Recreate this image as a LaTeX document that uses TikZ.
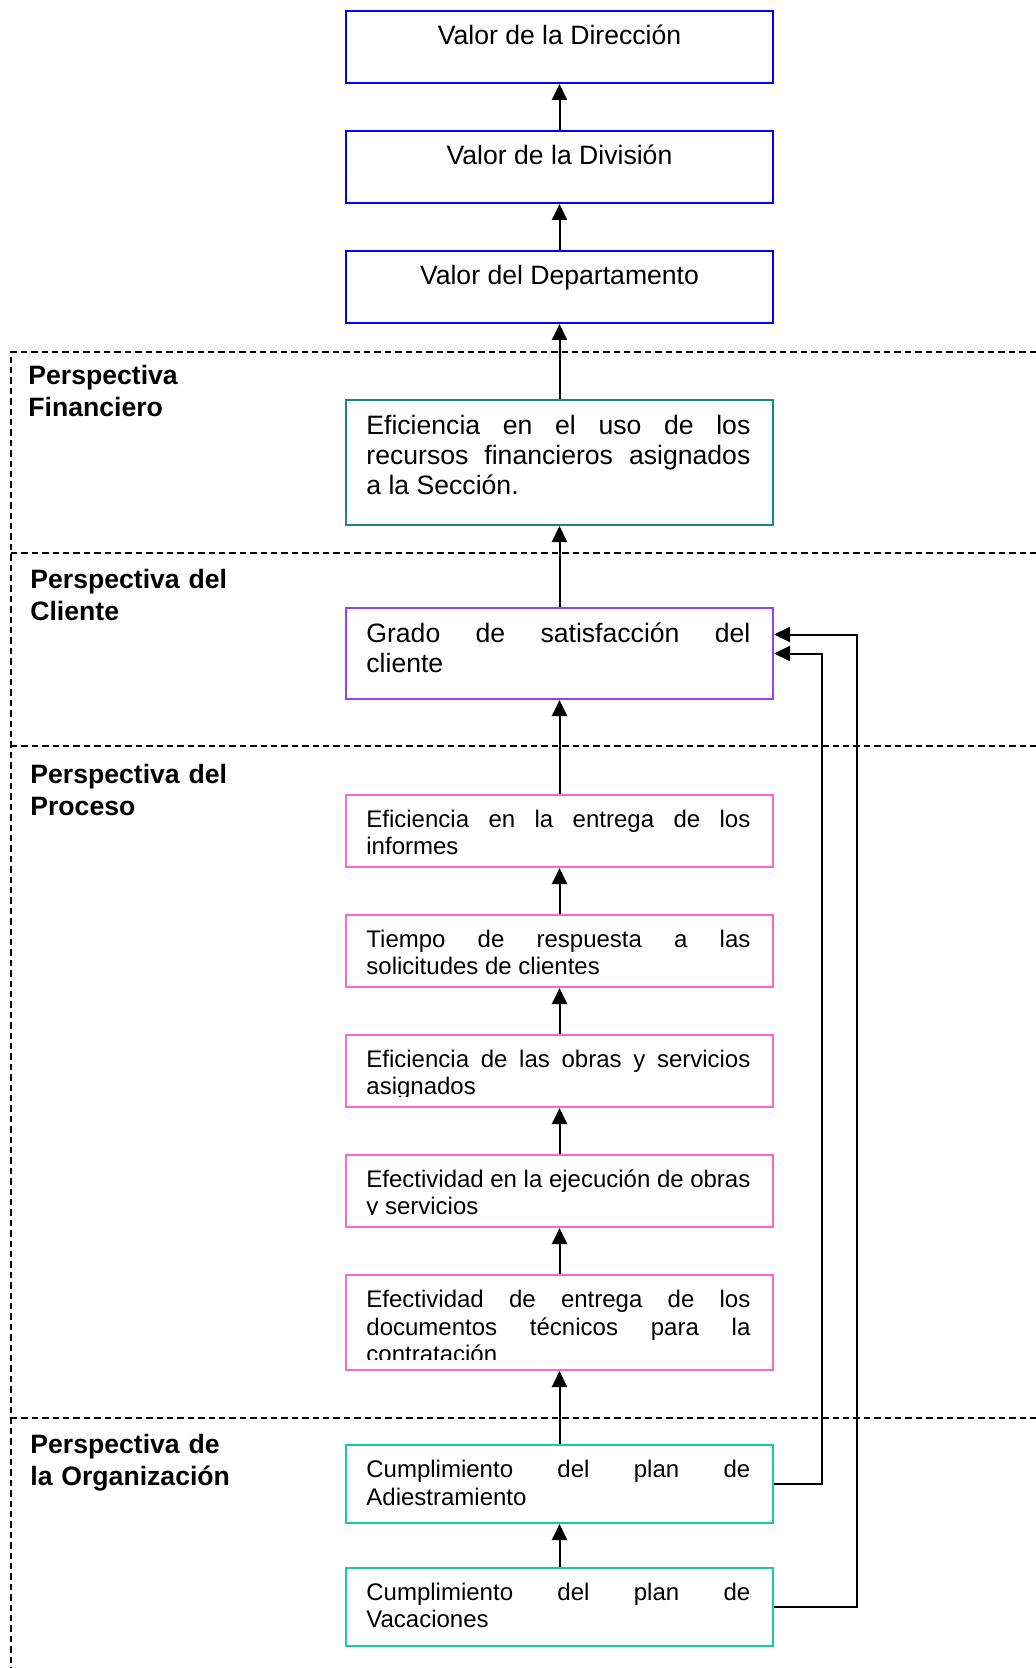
\documentclass[tikz,border=0pt]{standalone}
\usepackage{fontspec}
\setmainfont{Liberation Sans}
\usetikzlibrary{arrows.meta,calc}

\definecolor{boxblue}{RGB}{0,0,255}
\definecolor{boxteal}{RGB}{20,138,130}
\definecolor{boxpurple}{RGB}{155,60,255}
\definecolor{boxpink}{RGB}{255,102,204}
\definecolor{boxgreen}{RGB}{25,204,153}

\begin{document}
\begin{tikzpicture}[x=0.5pt,y=-0.5pt,
  kbox/.style={draw=#1, line width=1pt, minimum width=213.5pt, inner sep=0pt, anchor=north},
  toptext/.style={inner sep=0pt, anchor=base, font=\fontsize{13.3}{14.9}\selectfont},
  paratext/.style={text width=192pt, align=justify, inner sep=0pt, anchor=base west,
    execute at begin node={\hyphenpenalty=10000\relax\tolerance=10000\relax\hbadness=10000\relax}},
  bigtext/.style={paratext, font=\fontsize{13.3}{14.9}\selectfont},
  smalltext/.style={paratext, font=\fontsize{12}{13.85}\selectfont},
  persp/.style={text width=110pt, align=left, inner sep=0pt, anchor=base west,
    font=\fontsize{13.3}{16}\selectfont\bfseries},
  sep/.style={dash pattern=on 3.2pt off 2pt, line width=0.6pt},
  arr/.style={line width=1pt, -{Triangle[length=8pt,width=7.5pt]}}
]
\useasboundingbox (0,0) rectangle (1036,1668);

% perspective separators
\draw[sep] (1036,352) -- (11,352) -- (11,1668);
\draw[sep] (11,553) -- (1036,553);
\draw[sep] (11,746) -- (1036,746);
\draw[sep] (11,1418) -- (1036,1418);

% perspective labels
\node[persp] (lfin) at (28,385) {Perspectiva\\Financiero};
\node[persp] (lcli) at (30,588) {Perspectiva del\\Cliente};
\node[persp] (lpro) at (30,783) {Perspectiva del\\Proceso};
\node[persp] (lorg) at (30,1453) {Perspectiva de\\la Organización};

% value chain
\node[kbox=boxblue, minimum height=36pt] (b1) at (559.5,10) {};
\node[kbox=boxblue, minimum height=36pt] (b2) at (559.5,130) {};
\node[kbox=boxblue, minimum height=36pt] (b3) at (559.5,250) {};
\node[toptext] (t1) at ($(b1.north)+(0,35)$) {Valor de la Dirección};
\node[toptext] (t2) at ($(b2.north)+(0,35)$) {Valor de la División};
\node[toptext] (t3) at ($(b3.north)+(0,35)$) {Valor del Departamento};

% financial
\node[kbox=boxteal, minimum height=62.5pt] (fin) at (559.5,399) {};
\node[bigtext] (tfin) at ($(fin.north west)+(21,36)$)
  {Eficiencia en el uso de los\linebreak recursos financieros asignados\linebreak a la Sección.};

% client
\node[kbox=boxpurple, minimum height=45.5pt] (cli) at (559.5,607) {};
\node[bigtext] (tcli) at ($(cli.north west)+(21,35.5)$)
  {Grado de satisfacción del\linebreak cliente};

% process
\node[kbox=boxpink, minimum height=36pt] (p1) at (559.5,794) {};
\node[kbox=boxpink, minimum height=36pt] (p2) at (559.5,914) {};
\node[kbox=boxpink, minimum height=36pt] (p3) at (559.5,1034) {};
\node[kbox=boxpink, minimum height=36pt] (p4) at (559.5,1154) {};
\node[kbox=boxpink, minimum height=47.5pt] (p5) at (559.5,1274) {};
\node[smalltext] (tp1) at ($(p1.north west)+(21,33)$)
  {Eficiencia en la entrega de los\linebreak informes};
\node[smalltext] (tp2) at ($(p2.north west)+(21,33)$)
  {Tiempo de respuesta a las\linebreak solicitudes de clientes};
\begin{scope}
  \clip (p3.north west) rectangle ($(p3.south east)+(0,-12)$);
  \node[smalltext] (tp3) at ($(p3.north west)+(21,33)$)
    {Eficiencia de las obras y servicios\linebreak asignados};
\end{scope}
\begin{scope}
  \clip (p4.north west) rectangle ($(p4.south east)+(0,-13.5)$);
  \node[smalltext] (tp4) at ($(p4.north west)+(21,33)$)
    {Efectividad en la ejecución de obras\linebreak y servicios};
\end{scope}
\begin{scope}
  \clip (p5.north west) rectangle ($(p5.south east)+(0,-12)$);
  \node[smalltext] (tp5) at ($(p5.north west)+(21,33.5)$)
    {Efectividad de entrega de los\linebreak documentos técnicos para la\linebreak contratación};
\end{scope}

% organization
\node[kbox=boxgreen, minimum height=39pt] (o1) at (559.5,1444) {};
\node[kbox=boxgreen, minimum height=39pt] (o2) at (559.5,1567) {};
\node[smalltext] (to1) at ($(o1.north west)+(21,33.5)$)
  {Cumplimiento del plan de\linebreak Adiestramiento};
\node[smalltext] (to2) at ($(o2.north west)+(21,33)$)
  {Cumplimiento del plan de\linebreak Vacaciones};

% upward links
\draw[arr] (b2.north) -- (b1.south);
\draw[arr] (b3.north) -- (b2.south);
\draw[arr] (fin.north) -- (b3.south);
\draw[arr] (cli.north) -- (fin.south);
\draw[arr] (p1.north) -- (cli.south);
\draw[arr] (p2.north) -- (p1.south);
\draw[arr] (p3.north) -- (p2.south);
\draw[arr] (p4.north) -- (p3.south);
\draw[arr] (p5.north) -- (p4.south);
\draw[arr] (o1.north) -- (p5.south);
\draw[arr] (o2.north) -- (o1.south);

% feedback links to the client perspective
\draw[arr] (o1.east) -- ++(48,0) |- (cli.east);
\draw[arr] (o2.east) -- ++(83,0) |- ($(cli.east)+(0,-19)$);
\end{tikzpicture}
\end{document}
